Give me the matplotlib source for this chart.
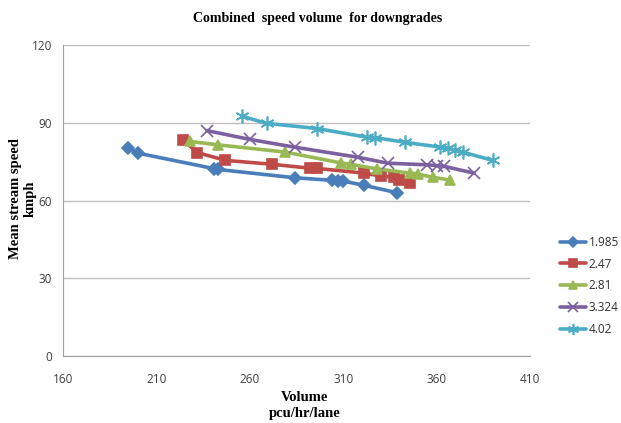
import matplotlib.pyplot as plt

# Speed-volume data for each downgrade
grades = ["1.985", "2.47", "2.81", "3.324", "4.02"]

vol_1985 = [195, 200, 241, 243, 284, 304, 307, 310, 321, 339]
spd_1985 = [80.3, 78.3, 72.3, 72.0, 68.8, 67.8, 67.6, 67.5, 65.9, 63.0]

vol_247 = [224, 232, 247, 272, 292, 296, 321, 330, 337, 340, 346]
spd_247 = [83.5, 78.5, 75.5, 74.0, 72.5, 72.4, 70.6, 69.5, 69.0, 68.0, 66.7]

vol_281 = [228, 243, 279, 309, 314, 328, 346, 350, 358, 367]
spd_281 = [82.8, 81.5, 78.7, 74.5, 74.0, 72.2, 70.6, 70.2, 69.0, 67.9]

vol_3324 = [237, 260, 284, 318, 334, 355, 360, 364, 380]
spd_3324 = [87.0, 83.6, 80.6, 76.7, 74.4, 73.8, 73.5, 73.2, 70.6]

vol_402 = [256, 269, 296, 323, 327, 343, 362, 366, 370, 374, 390]
spd_402 = [92.5, 89.8, 87.8, 84.4, 84.3, 82.5, 80.6, 80.2, 79.4, 78.7, 75.5]

x_ticks = [160, 210, 260, 310, 360, 410]
y_ticks = [0, 30, 60, 90, 120]

series = [
    (vol_1985, spd_1985, "#4A7EBB", "D", 6.5),
    (vol_247, spd_247, "#BE4B48", "s", 7.5),
    (vol_281, spd_281, "#98B954", "^", 7.5),
    (vol_3324, spd_3324, "#7D60A0", "x", 8.5),
    (vol_402, spd_402, "#4BACC6", (6, 2, 0), 10),
]

fig = plt.figure(figsize=(6.21, 4.23), dpi=100)
ax = fig.add_axes([0.1014, 0.1584, 0.752, 0.735])

for (vx, vy, col, mk, ms), name in zip(series, grades):
    ax.plot(vx, vy, color=col, lw=2.6, marker=mk, ms=ms, mew=1.2,
            mfc=col, mec=col, label=name, solid_capstyle="round")

ax.set_xlim(160, 410)
ax.set_ylim(0, 120)
ax.set_xticks(x_ticks)
ax.set_yticks(y_ticks)
ax.grid(axis="y", color="#BFBFBF", lw=1)
ax.set_axisbelow(True)
for s in ["top", "right"]:
    ax.spines[s].set_visible(False)
for s in ["left", "bottom"]:
    ax.spines[s].set_color("#A0A0A0")
ax.tick_params(length=0, labelsize=8.5, labelcolor="#404040", pad=12)
ax.tick_params(axis="y", pad=8)
for lab in ax.get_xticklabels() + ax.get_yticklabels():
    lab.set_family("Open Sans")

fig.text(0.512, 0.957, "Combined  speed volume  for downgrades", ha="center",
         va="center", fontsize=10, fontweight="bold", family="Liberation Serif")
fig.text(0.49, 0.042, "Volume\npcu/hr/lane", ha="center", va="center",
         fontsize=10.5, fontweight="bold", family="Liberation Serif",
         linespacing=1.3)
fig.text(0.037, 0.53, "Mean stream speed\nkmph", ha="center", va="center",
         rotation=90, fontsize=10.5, fontweight="bold",
         family="Liberation Serif", linespacing=1.2)

leg = fig.legend(loc="upper left", bbox_to_anchor=(0.885, 0.468),
                 frameon=False, handlelength=2.2,
                 labelspacing=0.75, handletextpad=0.2, markerscale=0.8,
                 prop={"family": "Open Sans", "size": 8.5})
for t in leg.get_texts():
    t.set_color("#303030")

fig.savefig("out.png", dpi=100)
